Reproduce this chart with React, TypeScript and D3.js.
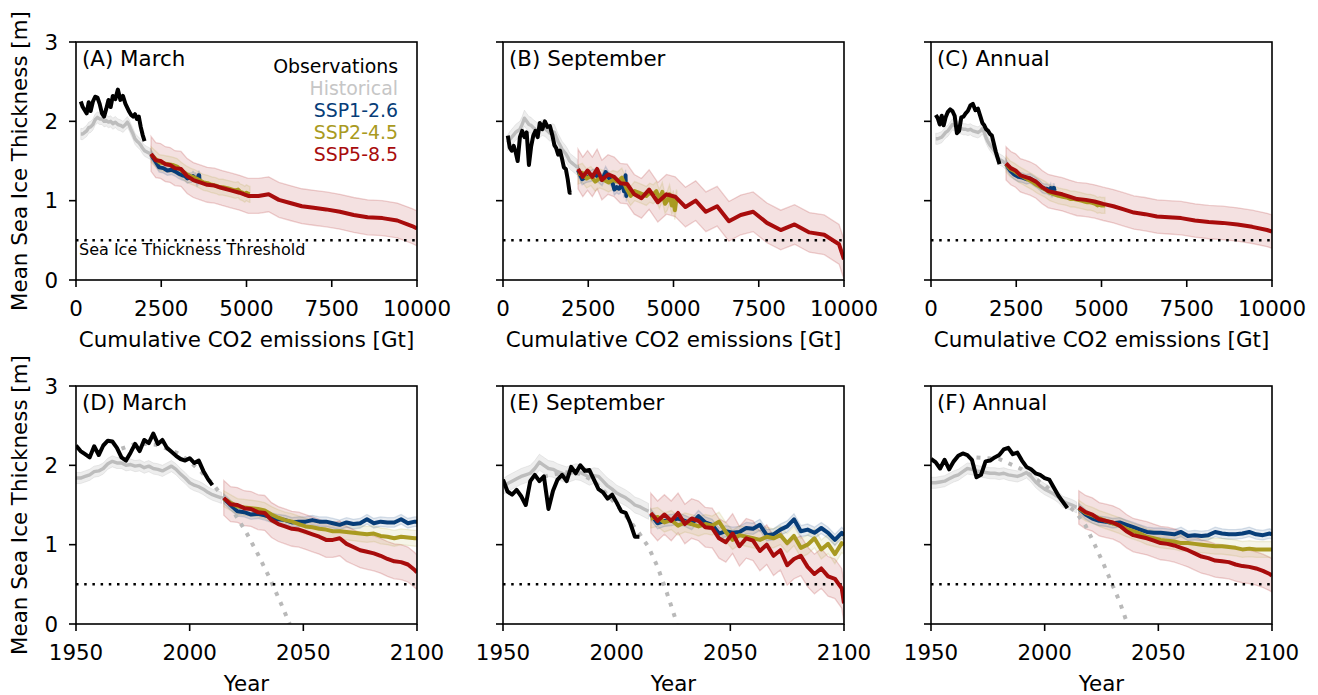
import React from 'react';
import * as d3 from 'd3';

// sample years
const obsYears = d3.range(1950, 2011, 2);
const histYears = d3.range(1950, 2015, 2);
const sspYears = [2015, 2018, 2021, 2024, 2027, 2030, 2033, 2036, 2039, 2042, 2045, 2048, 2051, 2054, 2057,
  2060, 2063, 2066, 2069, 2072, 2075, 2078, 2081, 2084, 2087, 2090, 2093, 2096, 2099, 2100];

// cumulative CO2 emissions [Gt] at node years
const histCumYears = [1950, 1960, 1970, 1980, 1990, 2000, 2010, 2014];
const histCum = [140, 430, 760, 1080, 1450, 1730, 2010, 2180];
const sspCumYears = [2015, 2030, 2040, 2050, 2060, 2070, 2080, 2090, 2100];
const cum126 = [2200, 2800, 3150, 3380, 3510, 3570, 3600, 3610, 3620];
const cum245 = [2200, 2830, 3270, 3700, 4100, 4440, 4730, 4950, 5100];
const cum585 = [2200, 2900, 3500, 4200, 5050, 6050, 7200, 8550, 10000];

// March
const marchObs = [2.25, 2.18, 2.14, 2.10, 2.24, 2.13, 2.25, 2.31, 2.30, 2.22, 2.10, 2.06, 2.16, 2.27, 2.18, 2.32,
  2.28, 2.40, 2.27, 2.32, 2.22, 2.17, 2.12, 2.08, 2.06, 2.09, 2.03, 2.06, 1.93, 1.83, 1.75];
const marchHist = [1.84, 1.84, 1.86, 1.88, 1.92, 1.93, 1.96, 2.02, 2.05, 2.03, 2.03, 2.00, 2.01, 1.99, 2.00, 1.97,
  1.99, 1.96, 1.95, 1.93, 1.96, 1.99, 1.95, 1.89, 1.84, 1.78, 1.75, 1.73, 1.70, 1.66, 1.63, 1.61, 1.59];
const march126 = [1.58, 1.50, 1.42, 1.41, 1.38, 1.39, 1.37, 1.34, 1.32, 1.31, 1.28, 1.29, 1.29, 1.31, 1.29,
  1.29, 1.27, 1.25, 1.28, 1.26, 1.27, 1.32, 1.27, 1.29, 1.28, 1.28, 1.32, 1.27, 1.29, 1.29];
const march245 = [1.58, 1.53, 1.48, 1.47, 1.46, 1.45, 1.43, 1.38, 1.34, 1.31, 1.29, 1.26, 1.23, 1.22, 1.20,
  1.19, 1.17, 1.17, 1.16, 1.15, 1.14, 1.13, 1.14, 1.11, 1.10, 1.08, 1.10, 1.09, 1.08, 1.08];
const march585 = [1.59, 1.51, 1.50, 1.46, 1.45, 1.41, 1.40, 1.31, 1.26, 1.23, 1.20, 1.19, 1.16, 1.13, 1.10,
  1.06, 1.06, 1.08, 1.01, 0.97, 0.93, 0.91, 0.89, 0.86, 0.82, 0.79, 0.78, 0.75, 0.68, 0.65];
const marchFitYears = [1970, 1975, 1980, 1985, 1990, 1995, 2000, 2005, 2010, 2015, 2020, 2025, 2030, 2035, 2040, 2044];
const marchFit = [2.21, 2.26, 2.27, 2.26, 2.21, 2.15, 2.05, 1.92, 1.77, 1.59, 1.38, 1.15, 0.88, 0.59, 0.27, 0.0];
const marchSpread = [0.07, 0.06, 0.10, 0.22];

// September
const sepObs = [1.82, 1.67, 1.63, 1.69, 1.61, 1.50, 1.80, 1.88, 1.80, 1.86, 1.45, 1.68, 1.82, 1.88, 1.80, 1.98,
  1.90, 2.00, 1.93, 1.94, 1.82, 1.70, 1.66, 1.58, 1.63, 1.53, 1.42, 1.40, 1.27, 1.10, 1.10];
const sepHist = [1.73, 1.77, 1.80, 1.83, 1.86, 1.88, 1.90, 1.96, 2.04, 2.00, 1.96, 1.95, 1.92, 1.90, 1.88, 1.90,
  1.92, 1.91, 1.88, 1.85, 1.87, 1.86, 1.80, 1.74, 1.70, 1.65, 1.62, 1.59, 1.55, 1.50, 1.48, 1.45, 1.42];
const sep126 = [1.38, 1.27, 1.30, 1.31, 1.33, 1.30, 1.26, 1.36, 1.28, 1.25, 1.14, 1.17, 1.15, 1.16, 1.21,
  1.20, 1.25, 1.12, 1.13, 1.19, 1.23, 1.32, 1.17, 1.19, 1.15, 1.21, 1.15, 1.06, 1.15, 1.12];
const sep245 = [1.33, 1.35, 1.28, 1.31, 1.24, 1.28, 1.26, 1.23, 1.26, 1.24, 1.29, 1.16, 1.06, 1.12, 1.10,
  1.08, 1.06, 1.10, 1.08, 1.12, 1.02, 1.11, 0.96, 1.00, 1.08, 0.94, 1.01, 0.88, 1.02, 1.00];
const sep585 = [1.40, 1.30, 1.38, 1.30, 1.40, 1.26, 1.33, 1.30, 1.22, 1.21, 1.08, 1.03, 1.14, 0.98, 1.08,
  1.05, 0.92, 1.00, 0.86, 0.93, 0.74, 0.82, 0.86, 0.72, 0.63, 0.70, 0.60, 0.57, 0.45, 0.26];
const sepFitYears = [1968, 1975, 1980, 1985, 1990, 1995, 2000, 2005, 2010, 2014, 2018, 2022, 2026.6];
const sepFit = [1.86, 1.90, 1.92, 1.88, 1.80, 1.66, 1.50, 1.33, 1.14, 0.97, 0.72, 0.40, 0.0];
const sepSpread = [0.10, 0.07, 0.12, 0.25];

// Annual
const annObs = [2.08, 2.04, 1.96, 2.07, 1.95, 2.05, 2.12, 2.15, 2.13, 2.07, 1.85, 1.88, 2.05, 2.06, 2.10, 2.13,
  2.20, 2.22, 2.14, 2.16, 2.06, 1.98, 1.95, 1.90, 1.88, 1.84, 1.82, 1.72, 1.62, 1.54, 1.46];
const annHist = [1.78, 1.78, 1.79, 1.80, 1.83, 1.86, 1.88, 1.92, 1.96, 1.95, 1.93, 1.92, 1.91, 1.90, 1.90, 1.89,
  1.90, 1.88, 1.87, 1.86, 1.88, 1.91, 1.86, 1.79, 1.74, 1.70, 1.67, 1.64, 1.60, 1.54, 1.52, 1.50, 1.47];
const ann126 = [1.46, 1.38, 1.33, 1.30, 1.29, 1.27, 1.28, 1.25, 1.22, 1.19, 1.16, 1.15, 1.15, 1.14, 1.13,
  1.16, 1.11, 1.12, 1.11, 1.12, 1.16, 1.14, 1.13, 1.13, 1.14, 1.16, 1.13, 1.12, 1.14, 1.13];
const ann245 = [1.46, 1.40, 1.37, 1.33, 1.30, 1.27, 1.24, 1.20, 1.17, 1.14, 1.10, 1.08, 1.06, 1.05, 1.04,
  1.02, 1.02, 1.01, 1.00, 0.99, 0.98, 0.98, 0.97, 0.96, 0.94, 0.95, 0.94, 0.94, 0.94, 0.94];
const ann585 = [1.47, 1.41, 1.38, 1.32, 1.30, 1.28, 1.24, 1.17, 1.12, 1.10, 1.08, 1.05, 1.02, 1.01, 0.99,
  0.96, 0.93, 0.89, 0.85, 0.83, 0.80, 0.79, 0.78, 0.75, 0.73, 0.72, 0.70, 0.67, 0.63, 0.61];
const annFitYears = [1970, 1980, 1990, 2000, 2010, 2014, 2018, 2022, 2026, 2030, 2033, 2036.4];
const annFit = [2.10, 2.08, 1.95, 1.75, 1.50, 1.40, 1.24, 1.00, 0.75, 0.48, 0.28, 0.0];
const annSpread = [0.07, 0.06, 0.10, 0.21];

const threshold = 0.5;
const cumTicks = [0, 2500, 5000, 7500, 10000];
const yearTicks = [1950, 2000, 2050, 2100];
const yTicks = [0, 1, 2, 3];
const legendItems = ['Observations', 'Historical', 'SSP1-2.6', 'SSP2-4.5', 'SSP5-8.5'];

const C = {
  obs: '#000000',
  hist: '#bdbdbd',
  histText: '#c6c6c6',
  s126: '#073d78',
  s245: '#a99a21',
  s585: '#a80c0c',
  fit: '#b9b9b9',
};
const legendColors = [C.obs, C.histText, C.s126, C.s245, C.s585];

const columns = [
  { name: 'March', tags: ['A', 'D'], obs: marchObs, hist: marchHist, s126: march126, s245: march245, s585: march585, fitYears: marchFitYears, fit: marchFit, spread: marchSpread },
  { name: 'September', tags: ['B', 'E'], obs: sepObs, hist: sepHist, s126: sep126, s245: sep245, s585: sep585, fitYears: sepFitYears, fit: sepFit, spread: sepSpread },
  { name: 'Annual', tags: ['C', 'F'], obs: annObs, hist: annHist, s126: ann126, s245: ann245, s585: ann585, fitYears: annFitYears, fit: annFit, spread: annSpread },
];

const histCumScale = d3.scaleLinear().domain(histCumYears).range(histCum);
const cum126Scale = d3.scaleLinear().domain(sspCumYears).range(cum126);
const cum245Scale = d3.scaleLinear().domain(sspCumYears).range(cum245);
const cum585Scale = d3.scaleLinear().domain(sspCumYears).range(cum585);

const FONT = "'DejaVu Sans', sans-serif";
const FS = 21.4;
const W = 341;
const H = 238;
const colX = [76, 503, 931];
const rowY = [42, 386];

type Pt = { x: number; v: number };

function Panel({ col, row }: { col: number; row: number }) {
  const c = columns[col];
  const left = colX[col];
  const top = rowY[row];
  const isCum = row === 0;
  const x = d3.scaleLinear().domain(isCum ? [0, 10000] : [1950, 2100]).range([left, left + W]);
  const y = d3.scaleLinear().domain([0, 3]).range([top + H, top]);

  const hx = (yr: number) => (isCum ? x(histCumScale(yr)) : x(yr));
  const sx = (sc: d3.ScaleLinear<number, number>) => (yr: number) => (isCum ? x(sc(yr)) : x(yr));

  const pts = (years: number[], vals: number[], f: (yr: number) => number): Pt[] =>
    years.map((yr, i) => ({ x: f(yr), v: vals[i] }));

  const line = d3.line<Pt>().x(d => d.x).y(d => y(d.v));
  const band = (s: number) => d3.area<Pt>().x(d => d.x).y0(d => y(d.v - s)).y1(d => y(d.v + s));

  const hist = pts(histYears, c.hist, hx);
  const obs = pts(obsYears, c.obs, hx);
  const p126 = pts(sspYears, c.s126, sx(cum126Scale));
  const p245 = pts(sspYears, c.s245, sx(cum245Scale));
  const p585 = pts(sspYears, c.s585, sx(cum585Scale));
  const fit = pts(c.fitYears, c.fit, (yr: number) => x(yr));

  const clipId = `clip-${row}-${col}`;
  const xTicks = isCum ? cumTicks : yearTicks;
  const tag = c.tags[row];

  const lw = 4;
  return (
    <g>
      <defs>
        <clipPath id={clipId}>
          <rect x={left} y={top} width={W} height={H} />
        </clipPath>
      </defs>
      <g clipPath={`url(#${clipId})`}>
        <path d={band(c.spread[0])(hist) || ''} fill={C.hist} fillOpacity={0.25} stroke={C.hist} strokeOpacity={0.3} strokeWidth={1} />
        <path d={band(c.spread[3])(p585) || ''} fill={C.s585} fillOpacity={0.12} stroke={C.s585} strokeOpacity={0.18} strokeWidth={1.3} />
        <path d={band(c.spread[2])(p245) || ''} fill={C.s245} fillOpacity={0.1} stroke={C.s245} strokeOpacity={0.15} strokeWidth={1.3} />
        <path d={band(c.spread[1])(p126) || ''} fill={C.s126} fillOpacity={0.1} stroke={C.s126} strokeOpacity={0.15} strokeWidth={1.3} />
        {!isCum && (
          <path d={line(fit) || ''} fill="none" stroke={C.fit} strokeWidth={4} strokeDasharray="4 7" />
        )}
        <line x1={left} x2={left + W} y1={y(threshold)} y2={y(threshold)} stroke="#000" strokeWidth={2.5} strokeDasharray="2.5 5.7" />
        <path d={line(hist) || ''} fill="none" stroke={C.hist} strokeWidth={3.4} strokeLinejoin="round" />
        <path d={line(obs) || ''} fill="none" stroke={C.obs} strokeWidth={lw} strokeLinejoin="round" />
        <path d={line(p126) || ''} fill="none" stroke={C.s126} strokeWidth={lw} strokeLinejoin="round" />
        <path d={line(p245) || ''} fill="none" stroke={C.s245} strokeWidth={lw} strokeLinejoin="round" />
        <path d={line(p585) || ''} fill="none" stroke={C.s585} strokeWidth={lw} strokeLinejoin="round" />
      </g>

      {/* frame */}
      <rect x={left} y={top} width={W} height={H} fill="none" stroke="#000" strokeWidth={1.6} />

      {/* x ticks */}
      {xTicks.map(t => (
        <g key={`xt${t}`}>
          <line x1={x(t)} x2={x(t)} y1={top + H} y2={top + H + 7} stroke="#000" strokeWidth={1.6} />
          <text x={x(t)} y={top + H + 36} textAnchor="middle" fontFamily={FONT} fontSize={FS} fill="#000">
            {t}
          </text>
        </g>
      ))}
      {/* y ticks */}
      {yTicks.map(t => (
        <g key={`yt${t}`}>
          <line x1={left - 7} x2={left} y1={y(t)} y2={y(t)} stroke="#000" strokeWidth={1.6} />
          {col === 0 && (
            <text x={left - 18} y={y(t)} dy="0.36em" textAnchor="end" fontFamily={FONT} fontSize={FS} fill="#000">
              {t}
            </text>
          )}
        </g>
      ))}

      <text x={left + W / 2} y={top + H + 66.5} textAnchor="middle" fontFamily={FONT} fontSize={FS} fill="#000">
        {isCum ? 'Cumulative CO2 emissions [Gt]' : 'Year'}
      </text>
      {col === 0 && (
        <text
          transform={`translate(${left - 57},${top + H / 2}) rotate(-90)`}
          textAnchor="middle"
          dy="0.36em"
          fontFamily={FONT}
          fontSize={FS}
          fill="#000"
        >
          Mean Sea Ice Thickness [m]
        </text>
      )}

      <text x={left + 6} y={top + 23.5} fontFamily={FONT} fontSize={FS} fill="#000">
        {`(${tag}) ${c.name}`}
      </text>

      {row === 0 && col === 0 && (
        <g>
          <text x={left + 3} y={y(threshold) + 15} fontFamily={FONT} fontSize={16} fill="#000">
            Sea Ice Thickness Threshold
          </text>
          {legendItems.map((item, i) => (
            <text key={item} x={left + 322} y={top + 31 + i * 22} textAnchor="end" fontFamily={FONT} fontSize={18.9} fill={legendColors[i]}>
              {item}
            </text>
          ))}
        </g>
      )}
    </g>
  );
}

export default function App() {
  return (
    <svg
      width={1318}
      height={695}
      style={{ position: 'absolute', left: 0, top: 0, background: '#fff' }}
    >
      {[0, 1].map(row =>
        [0, 1, 2].map(col => <Panel key={`${row}-${col}`} row={row} col={col} />)
      )}
    </svg>
  );
}
